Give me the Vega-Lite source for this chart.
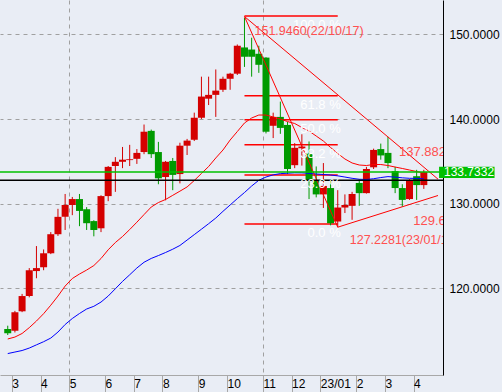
{
  "$schema": "https://vega.github.io/schema/vega-lite/v6.json",
  "width": 443,
  "height": 375,
  "autosize": {"type": "none"},
  "padding": {"left": 0, "top": 0, "right": 59, "bottom": 17},
  "background": "#e9edf5",
  "config": {"view": {"stroke": null}, "font": "Liberation Sans", "axis": {"labelOverlap": false}},
  "datasets": {
    "c": [
      {"d":"2022-03-03","o":115.2,"h":115.6,"l":114.5,"c":114.7,"m1":114.03,"m2":112.31},
      {"d":"2022-03-10","o":115.0,"h":117.35,"l":114.8,"c":117.2,"m1":114.26,"m2":112.49},
      {"d":"2022-03-17","o":117.3,"h":119.35,"l":117.2,"c":119.1,"m1":114.68,"m2":112.67},
      {"d":"2022-03-24","o":119.1,"h":122.4,"l":118.95,"c":122.15,"m1":115.37,"m2":112.96},
      {"d":"2022-03-31","o":122.05,"h":125.0,"l":121.2,"c":122.4,"m1":116.15,"m2":113.34},
      {"d":"2022-04-07","o":122.5,"h":124.6,"l":122.15,"c":124.15,"m1":117.02,"m2":113.71},
      {"d":"2022-04-14","o":124.15,"h":126.65,"l":124.05,"c":126.4,"m1":118.02,"m2":114.14},
      {"d":"2022-04-21","o":126.4,"h":129.4,"l":126.2,"c":128.45,"m1":119.1,"m2":114.85},
      {"d":"2022-04-28","o":128.45,"h":131.15,"l":126.9,"c":129.85,"m1":120.28,"m2":115.74},
      {"d":"2022-05-05","o":129.85,"h":130.8,"l":128.65,"c":130.55,"m1":121.17,"m2":116.45},
      {"d":"2022-05-12","o":130.55,"h":131.15,"l":127.35,"c":129.15,"m1":121.7,"m2":117.04},
      {"d":"2022-05-19","o":129.35,"h":129.6,"l":126.9,"c":127.7,"m1":122.17,"m2":117.57},
      {"d":"2022-05-26","o":127.95,"h":128.05,"l":126.15,"c":126.9,"m1":122.7,"m2":117.89},
      {"d":"2022-06-02","o":127.1,"h":131.0,"l":126.65,"c":130.9,"m1":123.53,"m2":118.39},
      {"d":"2022-06-09","o":130.9,"h":134.45,"l":130.3,"c":134.35,"m1":124.56,"m2":119.1},
      {"d":"2022-06-16","o":134.45,"h":135.5,"l":131.4,"c":134.95,"m1":125.42,"m2":119.96},
      {"d":"2022-06-23","o":134.95,"h":136.7,"l":134.2,"c":135.2,"m1":126.13,"m2":120.83},
      {"d":"2022-06-30","o":135.15,"h":136.95,"l":134.45,"c":135.25,"m1":126.95,"m2":121.61},
      {"d":"2022-07-07","o":135.3,"h":136.45,"l":134.7,"c":136.0,"m1":127.82,"m2":122.41},
      {"d":"2022-07-14","o":136.1,"h":139.35,"l":135.85,"c":138.5,"m1":128.72,"m2":123.09},
      {"d":"2022-07-21","o":138.6,"h":138.75,"l":135.4,"c":135.85,"m1":129.61,"m2":123.54},
      {"d":"2022-07-28","o":136.1,"h":137.3,"l":132.3,"c":133.0,"m1":130.14,"m2":123.88},
      {"d":"2022-08-04","o":133.15,"h":135.05,"l":130.4,"c":134.95,"m1":130.5,"m2":124.24},
      {"d":"2022-08-11","o":135.05,"h":135.4,"l":131.6,"c":133.4,"m1":130.99,"m2":124.63},
      {"d":"2022-08-18","o":133.5,"h":137.2,"l":132.4,"c":136.85,"m1":131.48,"m2":125.07},
      {"d":"2022-08-25","o":136.85,"h":137.65,"l":135.75,"c":137.45,"m1":131.98,"m2":125.71},
      {"d":"2022-09-01","o":137.55,"h":140.75,"l":137.4,"c":140.15,"m1":132.74,"m2":126.35},
      {"d":"2022-09-08","o":140.15,"h":145.0,"l":140.0,"c":142.65,"m1":133.57,"m2":126.99},
      {"d":"2022-09-15","o":142.4,"h":145.0,"l":141.65,"c":142.85,"m1":134.39,"m2":127.64},
      {"d":"2022-09-22","o":142.85,"h":145.85,"l":140.25,"c":143.35,"m1":135.4,"m2":128.31},
      {"d":"2022-09-29","o":143.45,"h":145.0,"l":143.2,"c":144.75,"m1":136.34,"m2":129.1},
      {"d":"2022-10-06","o":144.75,"h":145.45,"l":143.45,"c":145.35,"m1":137.52,"m2":129.85},
      {"d":"2022-10-13","o":145.35,"h":148.8,"l":145.2,"c":148.65,"m1":138.52,"m2":130.6},
      {"d":"2022-10-20","o":148.45,"h":151.95,"l":146.15,"c":147.35,"m1":139.53,"m2":131.32},
      {"d":"2022-10-27","o":148.2,"h":149.6,"l":145.0,"c":147.35,"m1":140.12,"m2":132.09},
      {"d":"2022-11-03","o":147.7,"h":148.65,"l":145.45,"c":146.4,"m1":140.47,"m2":132.77},
      {"d":"2022-11-10","o":147.25,"h":147.3,"l":138.3,"c":138.5,"m1":140.47,"m2":133.15},
      {"d":"2022-11-17","o":139.2,"h":140.75,"l":137.75,"c":140.25,"m1":140.24,"m2":133.41},
      {"d":"2022-11-24","o":140.25,"h":142.05,"l":138.25,"c":138.95,"m1":140.0,"m2":133.55},
      {"d":"2022-12-01","o":139.3,"h":139.65,"l":133.5,"c":134.1,"m1":139.7,"m2":133.6},
      {"d":"2022-12-08","o":134.55,"h":137.15,"l":134.2,"c":136.6,"m1":139.47,"m2":133.65},
      {"d":"2022-12-15","o":136.55,"h":138.2,"l":134.5,"c":136.75,"m1":139.0,"m2":133.64},
      {"d":"2022-12-22","o":135.9,"h":137.35,"l":130.55,"c":132.7,"m1":138.58,"m2":133.58},
      {"d":"2022-12-29","o":132.8,"h":134.4,"l":130.75,"c":131.1,"m1":137.99,"m2":133.51},
      {"d":"2023-01-05","o":131.1,"h":134.8,"l":129.5,"c":132.1,"m1":137.4,"m2":133.45},
      {"d":"2023-01-12","o":131.85,"h":132.9,"l":127.45,"c":127.7,"m1":136.64,"m2":133.39},
      {"d":"2023-01-19","o":127.9,"h":131.6,"l":127.2281,"c":129.55,"m1":135.93,"m2":133.29},
      {"d":"2023-01-26","o":129.55,"h":131.1,"l":128.9,"c":129.85,"m1":135.28,"m2":133.15},
      {"d":"2023-02-02","o":129.75,"h":131.4,"l":128.1,"c":131.15,"m1":134.81,"m2":133.0},
      {"d":"2023-02-09","o":132.45,"h":132.9,"l":129.75,"c":131.25,"m1":134.57,"m2":132.89},
      {"d":"2023-02-16","o":131.25,"h":134.35,"l":131.2,"c":134.1,"m1":134.51,"m2":132.86},
      {"d":"2023-02-23","o":134.3,"h":136.5,"l":134.1,"c":136.35,"m1":134.63,"m2":132.95},
      {"d":"2023-03-02","o":136.45,"h":137.1,"l":135.2,"c":135.7,"m1":134.63,"m2":133.09},
      {"d":"2023-03-09","o":136.0,"h":137.9,"l":134.2,"c":134.8,"m1":134.51,"m2":133.2},
      {"d":"2023-03-16","o":133.85,"h":134.35,"l":131.25,"c":131.85,"m1":134.33,"m2":133.14},
      {"d":"2023-03-23","o":131.85,"h":132.3,"l":129.64,"c":130.45,"m1":134.16,"m2":133.06},
      {"d":"2023-03-30","o":130.55,"h":132.9,"l":130.45,"c":132.7,"m1":133.98,"m2":133.0},
      {"d":"2023-04-06","o":133.25,"h":134.0,"l":130.45,"c":132.2,"m1":133.8,"m2":132.99},
      {"d":"2023-04-13","o":132.2,"h":134.0,"l":131.75,"c":133.7332,"m1":133.62,"m2":132.94}
    ],
    "fib": [
      {"t":"100.0 %","p":152.15},
      {"t":"61.8 %","p":142.75},
      {"t":"50.0 %","p":139.9},
      {"t":"38.2 %","p":136.95},
      {"t":"23.6 %","p":133.4},
      {"t":"0.0 %","p":127.6}
    ],
    "trend": [
      {"g":"A","d":"2022-10-20","p":152.1},
      {"g":"A","d":"2023-01-19","p":127.2281},
      {"g":"B","d":"2022-10-20","p":152.1},
      {"g":"B","d":"2023-03-09","p":137.882},
      {"g":"B","d":"2023-04-26T20:00:00Z","p":132.9},
      {"g":"C","d":"2023-01-19","p":127.2281},
      {"g":"C","d":"2023-03-23","p":129.64},
      {"g":"C","d":"2023-04-26T20:00:00Z","p":130.97}
    ],
    "one": [{}]
  },
  "layer": [
    {
      "data": {"name": "c"},
      "mark": {"type": "rule", "strokeWidth": 1, "opacity": 0},
      "encoding": {
        "x": {"field":"d","type":"temporal","title":null,
          "scale": {"type":"utc","domain":[{"year":2022,"month":2,"date":28,"hours":7,"minutes":45,"utc":true},{"year":2023,"month":4,"date":26,"hours":20,"utc":true}]},
          "axis": {
            "values": [1646611200000, 1649030400000, 1651449600000, 1654473600000, 1656892800000, 1659312000000, 1662336000000, 1664755200000, 1667779200000, 1670198400000, 1672617600000, 1675641600000, 1678060800000, 1680480000000],
            "tickCount": 40,
            "labelExpr": "utcmonth(datum.value) == 0 ? utcFormat(datum.value, '%y/%m') : '' + (utcmonth(datum.value) + 1)",
            "grid": true,
            "gridColor": "#a0a0a0",
            "gridDash": [4, 4],
            "gridOpacity": {"condition": {"test": "utcmonth(datum.value) == 4 || utcmonth(datum.value) == 10", "value": 1}, "value": 0},
            "tickSize": 17,
            "tickColor": "#a8a8a8",
            "domainColor": "#a8a8a8",
            "labelAlign": "left",
            "labelDx": 2,
            "labelBaseline": "middle",
            "labelPadding": -9,
            "labelFontSize": 12,
            "labelColor": "#000000",
            "labelOverlap": false,
            "labelFlush": false,
            "labelBound": false,
            "title": null
          }
        },
        "y": {"field":"l","type":"quantitative","title":null,
          "scale":{"domain":[109.78,154.05],"nice":false,"zero":false},
          "axis": {
            "orient": "right",
            "values": [120, 130, 140, 150],
            "format": ".4f",
            "grid": true,
            "gridColor": "#a0a0a0",
            "gridDash": [4, 4],
            "ticks": false,
            "tickSize": 0,
            "labelPadding": 6,
            "domainColor": "#000000",
            "labelFontSize": 12,
            "labelColor": "#000000",
            "title": null
          }
        },
        "y2": {"field":"h"}
      }
    },
    {
      "data": {"name": "fib"},
      "mark": {"type": "rule", "color": "#ff0000", "strokeWidth": 1.5},
      "encoding": {
        "x": {"datum": {"year":2022,"month":10,"date":20,"utc":true}, "type":"temporal", "title": null, "scale": {"type":"utc","domain":[{"year":2022,"month":2,"date":28,"hours":7,"minutes":45,"utc":true},{"year":2023,"month":4,"date":26,"hours":20,"utc":true}]}},
        "x2": {"datum": {"year":2023,"month":1,"date":19,"utc":true}},
        "y": {"field":"p","type":"quantitative","title":null,"scale":{"domain":[109.78,154.05],"nice":false,"zero":false}}
      }
    },
    {
      "data": {"name": "c"},
      "mark": {"type": "rule", "strokeWidth": 1},
      "encoding": {
        "x": {"field":"d","type":"temporal","title":null,"scale": {"type":"utc","domain":[{"year":2022,"month":2,"date":28,"hours":7,"minutes":45,"utc":true},{"year":2023,"month":4,"date":26,"hours":20,"utc":true}]}},
        "y": {"field":"l","type":"quantitative","title":null,"scale":{"domain":[109.78,154.05],"nice":false,"zero":false}},
        "y2": {"field":"h"},
        "color": {"condition": {"test": "datum.c >= datum.o", "value": "#d40000"}, "value": "#009a00"}
      }
    },
    {
      "data": {"name": "c"},
      "mark": {"type": "bar", "width": 7},
      "encoding": {
        "x": {"field":"d","type":"temporal","title":null,"scale": {"type":"utc","domain":[{"year":2022,"month":2,"date":28,"hours":7,"minutes":45,"utc":true},{"year":2023,"month":4,"date":26,"hours":20,"utc":true}]}},
        "y": {"field":"o","type":"quantitative","title":null,"scale":{"domain":[109.78,154.05],"nice":false,"zero":false}},
        "y2": {"field":"c"},
        "color": {"condition": {"test": "datum.c >= datum.o", "value": "#d40000"}, "value": "#009a00"}
      }
    },
    {
      "data": {"name": "c"},
      "mark": {"type": "line", "color": "#ff0000", "strokeWidth": 1},
      "encoding": {
        "x": {"field":"d","type":"temporal","title":null,"scale": {"type":"utc","domain":[{"year":2022,"month":2,"date":28,"hours":7,"minutes":45,"utc":true},{"year":2023,"month":4,"date":26,"hours":20,"utc":true}]}},
        "y": {"field":"m1","type":"quantitative","title":null,"scale":{"domain":[109.78,154.05],"nice":false,"zero":false}}
      }
    },
    {
      "data": {"name": "c"},
      "mark": {"type": "line", "color": "#0000ff", "strokeWidth": 1},
      "encoding": {
        "x": {"field":"d","type":"temporal","title":null,"scale": {"type":"utc","domain":[{"year":2022,"month":2,"date":28,"hours":7,"minutes":45,"utc":true},{"year":2023,"month":4,"date":26,"hours":20,"utc":true}]}},
        "y": {"field":"m2","type":"quantitative","title":null,"scale":{"domain":[109.78,154.05],"nice":false,"zero":false}}
      }
    },
    {
      "data": {"name": "trend"},
      "mark": {"type": "line", "color": "#ff0000", "strokeWidth": 1, "clip": true},
      "encoding": {
        "x": {"field":"d","type":"temporal","title":null,"scale": {"type":"utc","domain":[{"year":2022,"month":2,"date":28,"hours":7,"minutes":45,"utc":true},{"year":2023,"month":4,"date":26,"hours":20,"utc":true}]}},
        "y": {"field":"p","type":"quantitative","title":null,"scale":{"domain":[109.78,154.05],"nice":false,"zero":false}},
        "detail": {"field": "g"}
      }
    },
    {
      "data": {"name": "one"},
      "mark": {"type": "rule", "color": "#00c000", "strokeWidth": 1.5},
      "encoding": {
        "y": {"datum": 133.7332, "type":"quantitative","title":null,"scale":{"domain":[109.78,154.05],"nice":false,"zero":false}}
      }
    },
    {
      "data": {"name": "one"},
      "mark": {"type": "rule", "color": "#000000", "strokeWidth": 1.5},
      "encoding": {
        "y": {"datum": 132.76, "type":"quantitative","title":null,"scale":{"domain":[109.78,154.05],"nice":false,"zero":false}}
      }
    },
    {
      "data": {"name": "fib"},
      "mark": {"type": "text", "color": "#ffffff", "fontSize": 13, "align": "right", "baseline": "top", "dx": 3, "dy": 3},
      "encoding": {
        "x": {"datum": {"year":2023,"month":1,"date":19,"utc":true}, "type":"temporal", "title": null, "scale": {"type":"utc","domain":[{"year":2022,"month":2,"date":28,"hours":7,"minutes":45,"utc":true},{"year":2023,"month":4,"date":26,"hours":20,"utc":true}]}},
        "y": {"field":"p","type":"quantitative","title":null,"scale":{"domain":[109.78,154.05],"nice":false,"zero":false}},
        "text": {"field": "t"}
      }
    },
    {
      "data": {"name": "one"},
      "mark": {"type": "text", "text": "151.9460(22/10/17)", "color": "#ff5050", "fontSize": 12.5, "align": "left", "baseline": "middle", "dx": 10, "dy": 13},
      "encoding": {
        "x": {"datum": {"year":2022,"month":10,"date":20,"utc":true}, "type":"temporal", "title": null, "scale": {"type":"utc","domain":[{"year":2022,"month":2,"date":28,"hours":7,"minutes":45,"utc":true},{"year":2023,"month":4,"date":26,"hours":20,"utc":true}]}},
        "y": {"datum": 151.946, "type":"quantitative","title":null,"scale":{"domain":[109.78,154.05],"nice":false,"zero":false}}
      }
    },
    {
      "data": {"name": "one"},
      "mark": {"type": "text", "text": "127.2281(23/01/16)", "color": "#ff5050", "fontSize": 12.5, "align": "left", "baseline": "middle", "dx": 12, "dy": 13, "clip": true},
      "encoding": {
        "x": {"datum": {"year":2023,"month":1,"date":19,"utc":true}, "type":"temporal", "title": null, "scale": {"type":"utc","domain":[{"year":2022,"month":2,"date":28,"hours":7,"minutes":45,"utc":true},{"year":2023,"month":4,"date":26,"hours":20,"utc":true}]}},
        "y": {"datum": 127.2281, "type":"quantitative","title":null,"scale":{"domain":[109.78,154.05],"nice":false,"zero":false}}
      }
    },
    {
      "data": {"name": "one"},
      "mark": {"type": "text", "text": "137.882", "color": "#ff5050", "fontSize": 13, "align": "left", "baseline": "middle", "dx": 11, "dy": 15, "clip": true},
      "encoding": {
        "x": {"datum": {"year":2023,"month":3,"date":9,"utc":true}, "type":"temporal", "title": null, "scale": {"type":"utc","domain":[{"year":2022,"month":2,"date":28,"hours":7,"minutes":45,"utc":true},{"year":2023,"month":4,"date":26,"hours":20,"utc":true}]}},
        "y": {"datum": 137.882, "type":"quantitative","title":null,"scale":{"domain":[109.78,154.05],"nice":false,"zero":false}}
      }
    },
    {
      "data": {"name": "one"},
      "mark": {"type": "text", "text": "129.640", "color": "#ff5050", "fontSize": 13, "align": "left", "baseline": "middle", "dx": 11, "dy": 14, "clip": true},
      "encoding": {
        "x": {"datum": {"year":2023,"month":3,"date":23,"utc":true}, "type":"temporal", "title": null, "scale": {"type":"utc","domain":[{"year":2022,"month":2,"date":28,"hours":7,"minutes":45,"utc":true},{"year":2023,"month":4,"date":26,"hours":20,"utc":true}]}},
        "y": {"datum": 129.64, "type":"quantitative","title":null,"scale":{"domain":[109.78,154.05],"nice":false,"zero":false}}
      }
    },
    {
      "data": {"name": "one"},
      "mark": {"type": "rect", "color": "#00c000"},
      "encoding": {
        "x": {"datum": {"year":2023,"month":4,"date":27,"hours":21,"utc":true}, "type":"temporal", "title": null, "scale": {"type":"utc","domain":[{"year":2022,"month":2,"date":28,"hours":7,"minutes":45,"utc":true},{"year":2023,"month":4,"date":26,"hours":20,"utc":true}]}},
        "x2": {"datum": {"year":2023,"month":6,"date":21,"utc":true}},
        "y": {"datum": 134.37, "type":"quantitative","title":null,"scale":{"domain":[109.78,154.05],"nice":false,"zero":false}},
        "y2": {"datum": 133.03}
      }
    },
    {
      "data": {"name": "one"},
      "mark": {"type": "text", "text": "133.7332", "color": "#ffffff", "fontSize": 12, "align": "left", "baseline": "middle", "dx": 6},
      "encoding": {
        "x": {"datum": {"year":2023,"month":4,"date":26,"hours":20,"utc":true}, "type":"temporal", "title": null, "scale": {"type":"utc","domain":[{"year":2022,"month":2,"date":28,"hours":7,"minutes":45,"utc":true},{"year":2023,"month":4,"date":26,"hours":20,"utc":true}]}},
        "y": {"datum": 133.7332, "type":"quantitative","title":null,"scale":{"domain":[109.78,154.05],"nice":false,"zero":false}}
      }
    }
  ]
}
